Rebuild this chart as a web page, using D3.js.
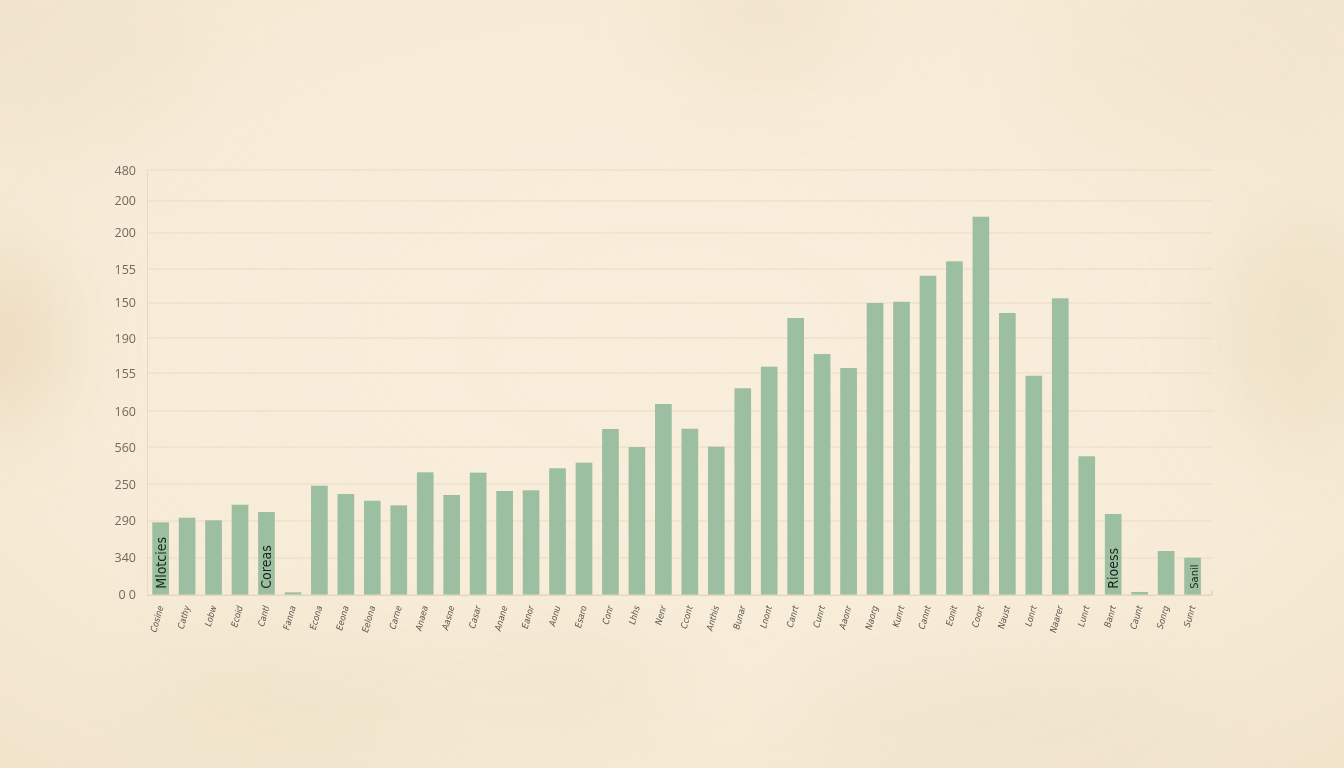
<!DOCTYPE html>
<html>
<head>
<meta charset="utf-8">
<script src="https://cdn.jsdelivr.net/npm/d3@7/dist/d3.min.js"></script>
<style>
  html, body { margin: 0; padding: 0; background: #f8ecd7; }
  svg { display: block; }
</style>
</head>
<body>
<svg id="chart" width="1344" height="768"></svg>
<script>
// ---- data ----
const categories = [
  "Cosine","Cathy","Lobw","Ecoid","Cantl","Fanna","Econa","Eeona","Eelona","Carne",
  "Anaea","Aasne","Casar","Anane","Eanor","Aonu","Esaro","Conr","Lhhs","Nenr",
  "Ccont","Anthis","Bunar","Lnont","Canrt","Cunrt","Aaonr","Naorg","Kunrt","Cannt",
  "Eonit","Coort","Naust","Lonrt","Naarer","Lunrt","Banrt","Caunt","Sonrg","Sunrt"
];
const values = [
  81.8, 87.0, 84.1, 101.7, 93.5, 2.7, 123.2, 113.8, 106.2, 101.0,
  138.3, 112.7, 137.9, 117.2, 118.0, 142.9, 149.2, 187.3, 166.9, 215.5,
  187.6, 167.3, 233.3, 257.7, 312.7, 272.0, 256.2, 329.7, 331.1, 360.5,
  376.8, 427.2, 318.4, 247.5, 335.0, 156.4, 91.2, 3.1, 49.4, 41.8
];
const yTickValues = [0, 41.5, 83.3, 125.1, 166.9, 207.6, 250.5, 290.1, 329.7, 368.1, 408.8, 445, 480];
const yTickLabels = ["0 0","340","290","250","560","160","155","190","150","155","200","200","480"];
const noteIndex = [0, 4, 36, 39];
const noteText = ["Mlotcies", "Coreas", "Rioess", "Sanil"];
const noteSize = [14, 14, 14, 11];

// ---- drawing ----
const W = 1344, H = 768;
const svg = d3.select("#chart");
const defs = svg.append("defs");

const blur = defs.append("filter").attr("id", "blur")
  .attr("x", "-50%").attr("y", "-50%").attr("width", "200%").attr("height", "200%");
blur.append("feGaussianBlur").attr("stdDeviation", 40);

const vig = defs.append("radialGradient").attr("id", "vig")
  .attr("cx", "50%").attr("cy", "45%").attr("r", "75%");
vig.append("stop").attr("offset", "0%").attr("stop-color", "#fbf1df").attr("stop-opacity", 0);
vig.append("stop").attr("offset", "60%").attr("stop-color", "#efe1c6").attr("stop-opacity", 0.15);
vig.append("stop").attr("offset", "100%").attr("stop-color", "#e9d9bc").attr("stop-opacity", 0.55);

svg.append("rect").attr("width", W).attr("height", H).attr("fill", "#f9eedb");
const blobs = svg.append("g").attr("filter", "url(#blur)");
[[0, 340, 60, 90, "#e8d6b8", 0.8], [760, 20, 90, 60, "#efe0c4", 0.6], [1300, 330, 80, 120, "#eadabd", 0.6],
 [300, 700, 160, 70, "#efe2c8", 0.6], [1000, 720, 200, 60, "#ece0c7", 0.5], [60, 60, 140, 80, "#f0e4cd", 0.5],
 [560, 680, 120, 50, "#eee0c5", 0.5], [1200, 80, 150, 80, "#f1e5ce", 0.5]]
  .forEach(b => blobs.append("ellipse").attr("cx", b[0]).attr("cy", b[1]).attr("rx", b[2]).attr("ry", b[3])
    .attr("fill", b[4]).attr("opacity", b[5]));
svg.append("rect").attr("width", W).attr("height", H).attr("fill", "url(#vig)");

const x0 = 147.4, x1 = 1205.8, axisRight = 1212;
const yBottom = 594.7, yTop = 170;

const x = d3.scaleBand().domain(categories).range([x0, x1]).paddingInner(0.37).paddingOuter(0.185);
const y = d3.scaleLinear().domain([0, 480]).range([yBottom, yTop]);

// gridlines
svg.append("g").selectAll("line").data(yTickValues.slice(1)).join("line")
  .attr("x1", 147).attr("x2", axisRight)
  .attr("y1", d => y(d)).attr("y2", d => y(d))
  .attr("stroke", "#eadcc4").attr("stroke-width", 1);

// y axis
const yAxis = d3.axisLeft(y).tickValues(yTickValues)
  .tickFormat((d, i) => yTickLabels[i]).tickSize(0).tickPadding(11);
const gy = svg.append("g").attr("transform", "translate(147,0)").call(yAxis);
gy.select(".domain").attr("stroke", "#e6dac4");
gy.selectAll("text").attr("font-family", "Open Sans, sans-serif").attr("font-size", 12.5)
  .attr("fill", "#6e6a62");

// bars
svg.append("g").selectAll("rect").data(values).join("rect")
  .attr("x", (d, i) => x(categories[i]))
  .attr("width", x.bandwidth())
  .attr("y", d => y(d))
  .attr("height", d => yBottom - y(d))
  .attr("fill", "#9cbea1");

// x axis
const xAxis = d3.axisBottom(x).tickSize(0).tickPadding(0);
const gx = svg.append("g").attr("transform", `translate(0,${yBottom})`).call(xAxis);
gx.select(".domain").attr("d", `M147,0.5H${axisRight}V-4`).attr("stroke", "#d9cdb5");
gx.selectAll("text")
  .attr("font-family", "DejaVu Sans Condensed, DejaVu Sans, sans-serif")
  .attr("font-style", "italic")
  .attr("font-size", 9)
  .attr("fill", "#5b564e")
  .attr("text-anchor", "end")
  .attr("dy", 0)
  .attr("transform", "translate(3,12) rotate(-74)");

// in-bar notes
svg.append("g").selectAll("text").data(noteIndex).join("text")
  .attr("transform", (d, i) => `translate(${x(categories[d]) + x.bandwidth() / 2 + 5},${yBottom - 6}) rotate(-90)`)
  .attr("font-family", "DejaVu Sans Condensed, DejaVu Sans, sans-serif")
  .attr("font-size", (d, i) => noteSize[i])
  .attr("fill", "#17251b")
  .text((d, i) => noteText[i]);
</script>
</body>
</html>
